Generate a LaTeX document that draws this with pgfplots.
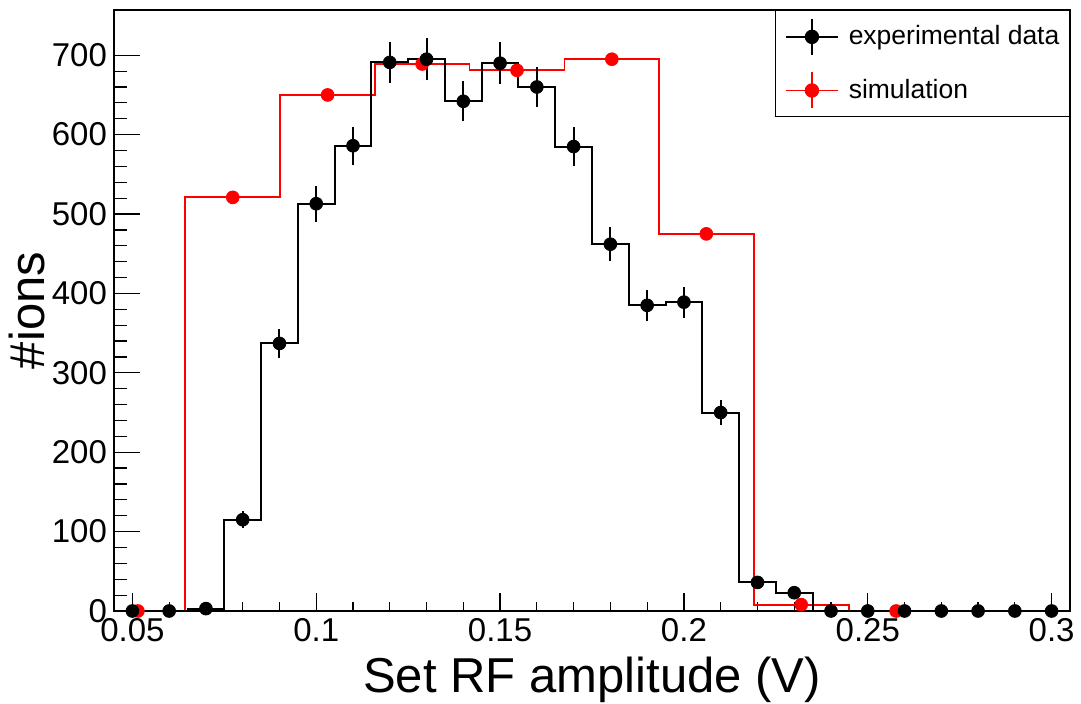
\documentclass[border=0pt]{standalone}
\usepackage{fontspec}
\setmainfont{Liberation Sans}
\usepackage{pgfplots}
\pgfplotsset{compat=1.18}
\usepackage{pgfplotstable}

\pgfplotstableread{
x y err
0.05 0 0
0.06 0 0
0.07 3 1.7
0.08 115 10.7
0.09 337 18.4
0.10 513 22.6
0.11 586 24.2
0.12 691 26.3
0.13 695 26.4
0.14 642 25.3
0.15 690 26.3
0.16 660 25.7
0.17 585 24.2
0.18 462 21.5
0.19 385 19.6
0.20 389 19.7
0.21 250 15.8
0.22 36 6.0
0.23 23 4.8
0.24 0 0
0.25 0 0
0.26 0 0
0.27 0 0
0.28 0 0
0.29 0 0
0.30 0 0
}\expdata

\pgfplotstableread{
x y
0.0515 0
0.0773 521
0.1031 650
0.1288 689
0.1546 681
0.1804 695
0.2061 475
0.2319 8
0.2577 0
}\simdata

\begin{document}
\begin{tikzpicture}
\useasboundingbox (-57pt,-46.5pt) rectangle (483.5pt,305.5pt);
\begin{axis}[
  at={(0pt,0pt)}, anchor=south west,
  scale only axis, width=478pt, height=300.5pt,
  xmin=0.045, xmax=0.305, ymin=0, ymax=757,
  clip=false,
  axis line style={line width=0.6pt},
  tick pos=left, tick align=inside,
  xtick={0.05,0.1,0.15,0.2,0.25,0.3},
  xticklabels={0.05,0.1,0.15,0.2,0.25,0.3},
  scaled ticks=false,
  minor x tick num=4,
  ytick={0,100,200,300,400,500,600,700},
  minor y tick num=4,
  major tick length=13pt, minor tick length=6.3pt,
  xtick style={/pgfplots/major tick length=9pt, /pgfplots/minor tick length=4.5pt},
  every tick/.style={black, line width=0.6pt},
  /pgf/number format/assume math mode=true,
  tick label style={font=\fontsize{16.5pt}{18pt}\selectfont},
  label style={font=\fontsize{24.5pt}{28pt}\selectfont},
  xlabel={Set RF amplitude (V)},
  ylabel={\#ions},
  xlabel style={at={(axis description cs:0.5,-0.1348)}, anchor=base},
  ylabel style={at={(axis description cs:-0.0722,0.5)}, anchor=base},
  legend image code/.code={
    \draw[#1] (0pt,0pt) -- (26pt,0pt);
    \draw[#1] (13pt,-9pt) -- (13pt,9pt);
    \fill[#1] (13pt,0pt) circle (3.2pt);
  },
  legend style={at={(1,1)}, anchor=north east, draw=black, line width=0.6pt,
    font=\fontsize{13.25pt}{15pt}\selectfont,
    inner xsep=5pt, inner ysep=3.75pt, row sep=8pt, column sep=5pt,
    nodes={inner sep=0pt}},
  legend cell align=left,
]
\addlegendimage{black, line width=0.8pt}
\addlegendentry{experimental data}
\addlegendimage{red, line width=0.8pt}
\addlegendentry{simulation}

\addplot[red, line width=0.9pt, const plot mark mid, mark=none, forget plot] table[x=x,y=y] {\simdata};
\addplot[red, only marks, mark=*, mark size=3.2pt, forget plot] table[x=x,y=y] {\simdata};
\addplot[black, line width=1pt, const plot mark mid, mark=none, forget plot] table[x=x,y=y] {\expdata};
\addplot[black, only marks, mark=*, mark size=3.2pt, forget plot,
  error bars/.cd, y dir=both, y explicit, error mark=none,
  error bar style={line width=1pt}] table[x=x,y=y,y error=err] {\expdata};
\end{axis}
\end{tikzpicture}
\end{document}
